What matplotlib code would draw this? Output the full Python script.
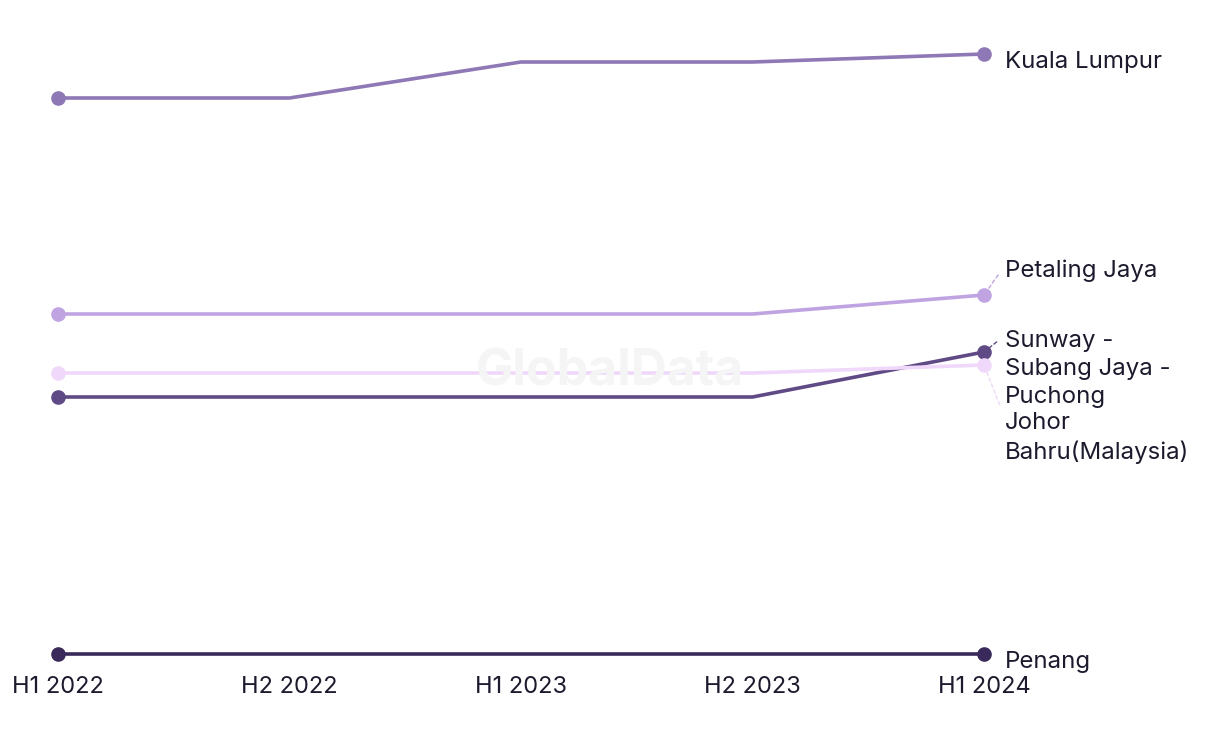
import matplotlib.pyplot as plt
import numpy as np

plt.rcParams['font.family'] = ['Inter', 'DejaVu Sans']

periods = ['H1 2022', 'H2 2022', 'H1 2023', 'H2 2023', 'H1 2024']
cities = ['Kuala Lumpur', 'Petaling Jaya', 'Sunway -\nSubang Jaya -\nPuchong',
          'Johor\nBahru(Malaysia)', 'Penang']

kuala_lumpur = [656, 656, 692, 692, 700]
petaling_jaya = [440, 440, 440, 440, 459]
sunway = [357, 357, 357, 357, 402]
johor_bahru = [381, 381, 381, 381, 389]
penang = [100, 100, 100, 100, 100]
series = [kuala_lumpur, petaling_jaya, sunway, johor_bahru, penang]

colors = ['#8f78b6', '#c0a4e2', '#5f4a86', '#f0d8fa', '#3a2a5b']
# where each end label sits (data units), and where the connector attaches
label_y = [692, 483, 385, 316, 92]
label_rel = [None, (0, 0.75), (0, 0.93), (0, 0.88), None]
draw_order = [3, 1, 0, 2, 4]

fig = plt.figure(figsize=(12.2, 7.44), dpi=100)
ax = fig.add_axes([58 / 1220, 90 / 744, 926 / 1220, 600 / 744])

x = np.arange(len(periods))
for i in draw_order:
    ax.plot(x, series[i], color=colors[i], lw=2.6, solid_capstyle='round',
            clip_on=False, zorder=2 + i * 0.1)
    ax.plot(x[[0, -1]], np.array(series[i])[[0, -1]], 'o', color=colors[i],
            ms=9.5, clip_on=False, zorder=3 + i * 0.1)

for i, name in enumerate(cities):
    kw = {}
    if label_rel[i] is not None:
        kw['arrowprops'] = dict(arrowstyle='-', linestyle=(0, (2.5, 2)), color=colors[i],
                                lw=1.0, relpos=label_rel[i], shrinkA=5, shrinkB=5)
    ax.annotate(name, xy=(x[-1], series[i][-1]), xytext=(4.09, label_y[i]),
                textcoords='data', ha='left', va='center', fontsize=17.3,
                color='#1c1b2e', linespacing=1.36, annotation_clip=False, **kw)

ax.set_xlim(0, 4)
ax.set_ylim(100, 700)
ax.set_xticks(x)
ax.set_xticklabels(periods, fontsize=17, color='#1c1b2e')
ax.tick_params(axis='x', length=0, pad=16)
ax.set_yticks([])
for s in ax.spines.values():
    s.set_visible(False)

fig.text(0.5, 0.5, 'GlobalData', fontsize=36, fontweight='bold', color='#f5f5f5',
         ha='center', va='center', zorder=0)

fig.savefig('out.png', dpi=100)
